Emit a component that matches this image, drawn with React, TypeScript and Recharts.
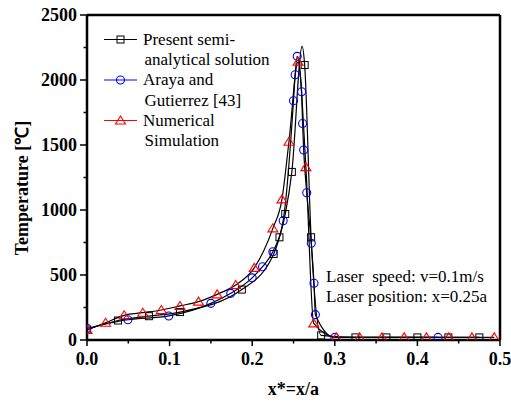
import { ComposedChart, Line, Scatter, XAxis, YAxis } from "recharts";

interface Pt {
  x: number;
  y: number;
}

// black squares: present semi-analytical solution
const presentMarkers: Pt[] = [
  { x: 0, y: 80 },
  { x: 0.0375, y: 150 },
  { x: 0.075, y: 183 },
  { x: 0.1125, y: 215 },
  { x: 0.1875, y: 388 },
  { x: 0.226, y: 662 },
  { x: 0.233, y: 790 },
  { x: 0.24, y: 969 },
  { x: 0.248, y: 1293 },
  { x: 0.2635, y: 2115 },
  { x: 0.2713, y: 790 },
  { x: 0.2835, y: 35 },
  { x: 0.325, y: 20 },
  { x: 0.3625, y: 20 },
  { x: 0.4, y: 20 },
  { x: 0.4375, y: 20 },
  { x: 0.475, y: 20 },
];
// apex of the black curve (no marker drawn there)
const presentPeak: Pt = { x: 0.2605, y: 2258 };
const presentCurve = [...presentMarkers, presentPeak].sort((a, b) => a.x - b.x);

// blue circles: Araya and Gutierrez [43]
const arayaMarkers: Pt[] = [
  { x: 0, y: 90 },
  { x: 0.0495, y: 156 },
  { x: 0.099, y: 185 },
  { x: 0.15, y: 282 },
  { x: 0.174, y: 359 },
  { x: 0.2, y: 478 },
  { x: 0.2125, y: 564 },
  { x: 0.225, y: 679 },
  { x: 0.2375, y: 918 },
  { x: 0.25, y: 1840 },
  { x: 0.252, y: 2040 },
  { x: 0.2545, y: 2182 },
  { x: 0.2598, y: 1910 },
  { x: 0.261, y: 1665 },
  { x: 0.2623, y: 1462 },
  { x: 0.266, y: 1133 },
  { x: 0.2715, y: 744 },
  { x: 0.2748, y: 436 },
  { x: 0.2765, y: 195 },
  { x: 0.3, y: 20 },
  { x: 0.425, y: 20 },
];

// red triangles: numerical simulation
const numericalMarkers: Pt[] = [
  { x: 0, y: 78 },
  { x: 0.0225, y: 133 },
  { x: 0.045, y: 190 },
  { x: 0.0675, y: 210 },
  { x: 0.09, y: 231 },
  { x: 0.1125, y: 262 },
  { x: 0.135, y: 295 },
  { x: 0.1575, y: 351 },
  { x: 0.18, y: 423 },
  { x: 0.2025, y: 555 },
  { x: 0.225, y: 859 },
  { x: 0.236, y: 1082 },
  { x: 0.2445, y: 1525 },
  { x: 0.2555, y: 2140 },
  { x: 0.265, y: 1330 },
  { x: 0.2745, y: 128 },
  { x: 0.302, y: 20 },
  { x: 0.33, y: 20 },
  { x: 0.357, y: 20 },
  { x: 0.384, y: 20 },
  { x: 0.411, y: 20 },
  { x: 0.438, y: 20 },
  { x: 0.466, y: 20 },
  { x: 0.493, y: 20 },
];

const xTicks = [0, 0.05, 0.1, 0.15, 0.2, 0.25, 0.3, 0.35, 0.4, 0.45, 0.5];
const yTicks = [0, 250, 500, 750, 1000, 1250, 1500, 1750, 2000, 2250, 2500];

const SERIF = "'Liberation Serif', 'Times New Roman', Times, serif";
const BLUE = "#0000ff";
const RED = "#ff0000";

const boldText = { fontFamily: SERIF, fontWeight: 700, fontSize: 18 };
const plainText = { fontFamily: SERIF, fontWeight: 400, fontSize: 17 };

function isMajor(v: number, step: number) {
  const r = v / step;
  return Math.abs(r - Math.round(r)) < 1e-6;
}

const BottomTick = (props: any) => {
  const { x, y, payload } = props;
  const major = isMajor(payload.value, 0.1);
  return (
    <g>
      <line x1={x} x2={x} y1={y} y2={y + (major ? 6 : 3.5)} stroke="#000" strokeWidth={1.5} />
      {major && (
        <text x={x} y={y + 25} textAnchor="middle" style={boldText} fill="#000">
          {payload.value.toFixed(1)}
        </text>
      )}
    </g>
  );
};

const LeftTick = (props: any) => {
  const { x, y, payload } = props;
  const major = isMajor(payload.value, 500);
  return (
    <g>
      <line x1={x - (major ? 7 : 3.5)} x2={x} y1={y} y2={y} stroke="#000" strokeWidth={1.5} />
      {major && (
        <text x={x - 10} y={y + 6} textAnchor="end" style={boldText} fill="#000">
          {payload.value}
        </text>
      )}
    </g>
  );
};

const TopTick = (props: any) => {
  const { x, y } = props;
  return <line x1={x} x2={x} y1={y} y2={y - 2} stroke="#000" strokeWidth={1.2} />;
};

const squareShape = (p: any) => (
  <rect x={p.cx - 3.5} y={p.cy - 3.5} width={7} height={7} fill="none" stroke="#000" strokeWidth={1} />
);
const circleShape = (p: any) => (
  <circle cx={p.cx} cy={p.cy} r={4} fill="none" stroke={BLUE} strokeWidth={1.1} />
);
const triangleShape = (p: any) => (
  <path
    d={`M${p.cx},${p.cy - 4.5} L${p.cx + 5},${p.cy + 3.5} L${p.cx - 5},${p.cy + 3.5} Z`}
    fill="none"
    stroke={RED}
    strokeWidth={1.1}
  />
);

const legendItems = [
  { lines: ["Present semi-", "analytical solution"], color: "#000", shape: squareShape, y: 39.5 },
  { lines: ["Araya and", "Gutierrez [43]"], color: BLUE, shape: circleShape, y: 80 },
  { lines: ["Numerical", "Simulation"], color: RED, shape: triangleShape, y: 120.5 },
];

export default function App() {
  const axisLine = { stroke: "#000", strokeWidth: 2.5 };
  return (
    <div style={{ position: "absolute", left: 0, top: 0, width: 511, height: 403, background: "#fff", fontFamily: SERIF }}>
      <ComposedChart width={511} height={403} margin={{ top: 0, right: 0, bottom: 0, left: 0 }}>
        <XAxis
          dataKey="x"
          type="number"
          domain={[0, 0.5]}
          ticks={xTicks}
          interval={0}
          tickSize={0}
          tickMargin={0}
          height={63}
          axisLine={axisLine}
          tickLine={false}
          tick={<BottomTick />}
          allowDataOverflow
        />
        <XAxis
          xAxisId="top"
          orientation="top"
          dataKey="x"
          type="number"
          domain={[0, 0.5]}
          ticks={xTicks}
          interval={0}
          tickSize={0}
          tickMargin={0}
          height={15}
          axisLine={axisLine}
          tickLine={false}
          tick={<TopTick />}
        />
        <YAxis
          dataKey="y"
          type="number"
          domain={[0, 2500]}
          ticks={yTicks}
          interval={0}
          tickSize={0}
          tickMargin={0}
          width={87}
          axisLine={axisLine}
          tickLine={false}
          tick={<LeftTick />}
          allowDataOverflow
        />
        <YAxis
          yAxisId="right"
          orientation="right"
          dataKey="y"
          type="number"
          domain={[0, 2500]}
          ticks={yTicks}
          width={11}
          axisLine={axisLine}
          tickLine={false}
          tick={false}
        />
        <Line data={presentCurve} dataKey="y" type="monotone" stroke="#000" strokeWidth={1.2} dot={false} activeDot={false} isAnimationActive={false} />
        <Line data={arayaMarkers} dataKey="y" type="monotone" stroke="#000" strokeWidth={1.2} dot={false} activeDot={false} isAnimationActive={false} />
        <Line data={numericalMarkers} dataKey="y" type="monotone" stroke="#000" strokeWidth={1.2} dot={false} activeDot={false} isAnimationActive={false} />
        <Scatter data={presentMarkers} dataKey="y" shape={squareShape} isAnimationActive={false} />
        <Scatter data={arayaMarkers} dataKey="y" shape={circleShape} isAnimationActive={false} />
        <Scatter data={numericalMarkers} dataKey="y" shape={triangleShape} isAnimationActive={false} />
      </ComposedChart>
      <svg width={511} height={403} style={{ position: "absolute", left: 0, top: 0, pointerEvents: "none" }}>
        {legendItems.map((item) => (
          <g key={item.lines[0]}>
            <line x1={104} x2={137} y1={item.y} y2={item.y} stroke={item.color} strokeWidth={1.2} />
            {item.shape({ cx: 120.5, cy: item.y })}
            <text x={143} y={item.y + 5} style={plainText} fill="#000">
              {item.lines[0]}
            </text>
            <text x={144.5} y={item.y + 25.5} style={plainText} fill="#000">
              {item.lines[1]}
            </text>
          </g>
        ))}
        <text x={326} y={282} style={{ ...plainText, whiteSpace: "pre" }} fill="#000">
          {"Laser  speed: v=0.1m/s"}
        </text>
        <text x={326} y={302} style={plainText} fill="#000">
          Laser position: x=0.25a
        </text>
        <text x={293.5} y={395} textAnchor="middle" style={boldText} fill="#000">
          x*=x/a
        </text>
        <text transform="translate(28,188) rotate(-90)" textAnchor="middle" style={boldText} fill="#000">
          Temperature [℃]
        </text>
      </svg>
    </div>
  );
}
